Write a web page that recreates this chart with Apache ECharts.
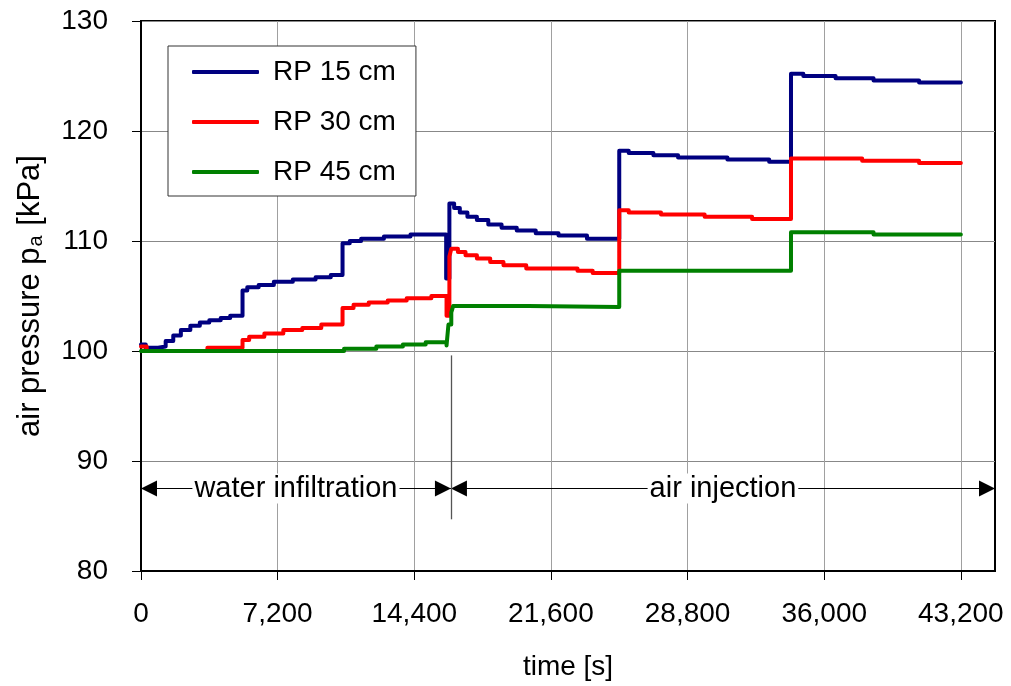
<!DOCTYPE html>
<html>
<head>
<meta charset="utf-8">
<script src="https://cdn.jsdelivr.net/npm/echarts@6/dist/echarts.min.js"></script>
<style>
  html, body { margin: 0; padding: 0; background: #ffffff; }
  #chart { width: 1011px; height: 686px; }
</style>
</head>
<body>
<div id="chart"></div>
<script>
// Air pressure at three reference points (RP) during water infiltration and air injection.
// Each pair is [time in s, pressure in kPa]; the level holds until the next pair.
const seriesNames = ['RP 15 cm', 'RP 30 cm', 'RP 45 cm'];

const rp15 = [
  [0, 100.6], [250, 100.3], [900, 100.4], [1300, 100.9], [1700, 101.4], [2100, 101.9],
  [2600, 102.3], [3100, 102.6], [3600, 102.8], [4200, 103.0], [4700, 103.2],
  [5350, 105.5], [5600, 105.8], [6200, 106.0], [7000, 106.3], [8000, 106.5],
  [9200, 106.7], [10000, 106.9], [10620, 109.8], [11000, 110.0], [11600, 110.2],
  [12800, 110.4], [14200, 110.6], [16080, 106.6], [16250, 113.4], [16500, 113.0],
  [16800, 112.6], [17200, 112.2], [17700, 111.9], [18300, 111.5], [19000, 111.2],
  [19800, 110.95], [20800, 110.7], [22000, 110.5], [23500, 110.2], [25200, 118.2],
  [25700, 118.0], [27000, 117.8], [28300, 117.6], [30900, 117.4], [33100, 117.2],
  [34250, 125.2], [34900, 125.0], [36600, 124.8], [38600, 124.6], [41000, 124.4],
  [43200, 124.4]
];

const rp30 = [
  [0, 100.4], [300, 100.0], [3500, 100.3], [5350, 101.0], [5700, 101.3], [6500, 101.6],
  [7500, 101.9], [8500, 102.1], [9500, 102.4], [10620, 103.9], [11200, 104.2],
  [12000, 104.4], [13000, 104.6], [14000, 104.8], [15300, 105.0], [16100, 103.2],
  [16250, 108.6], [16350, 109.3], [16700, 109.0], [17100, 108.7], [17700, 108.4],
  [18400, 108.1], [19100, 107.8], [20300, 107.5], [23000, 107.3], [23800, 107.1],
  [25200, 112.8], [25700, 112.6], [27400, 112.4], [29700, 112.2], [32200, 112.0],
  [34250, 117.5], [38000, 117.3], [41000, 117.1], [43200, 117.1]
];

const rp45 = [
  [0, 100.0], [10700, 100.2], [12400, 100.4], [13800, 100.6], [15000, 100.8],
  [16100, 100.5], [16200, 102.4], [16350, 103.5], [16450, 104.1], [20400, 104.0],
  [25200, 107.3], [34250, 110.8], [38600, 110.6], [43200, 110.6]
];

// Axis ticks
const xTickValues = [0, 7200, 14400, 21600, 28800, 36000, 43200];
const yTickValues = [80, 90, 100, 110, 120, 130];

// Test phases shown below the curves
const phaseLabels = ['water infiltration', 'air injection'];
const phaseBounds = [0, 16330, 45000];
const phaseArrowLevel = 87.5;
const separatorRange = [99.6, 84.7];

const FONT = '"Liberation Sans", Arial, Helvetica, sans-serif';
const colors = ['#000080', '#ff0000', '#008000'];

function withCommas(v) {
  return String(v).replace(/\B(?=(\d{3})+(?!\d))/g, ',');
}

function lineSeries(name, data, color, extra) {
  return Object.assign({
    name: name,
    type: 'line',
    data: data,
    step: 'end',
    symbol: 'none',
    animation: false,
    lineStyle: { color: color, width: 4, cap: 'round', join: 'round' },
    itemStyle: { color: color }
  }, extra || {});
}

const arrowLabel = {
  show: true,
  position: 'middle',
  distance: [0, -15],
  color: '#000',
  fontFamily: FONT,
  fontSize: 29,
  lineHeight: 30,
  backgroundColor: '#ffffff',
  padding: [0, 2]
};

const phaseMarks = {
  silent: true,
  animation: false,
  symbol: ['triangle', 'triangle'],
  symbolSize: 16,
  symbolOffset: [[0, 8], [0, 8]],
  lineStyle: { color: '#000', width: 1, type: 'solid' },
  data: [
    [
      { coord: [phaseBounds[0], phaseArrowLevel], label: Object.assign({}, arrowLabel, { formatter: phaseLabels[0] }) },
      { coord: [phaseBounds[1], phaseArrowLevel] }
    ],
    [
      { coord: [phaseBounds[1], phaseArrowLevel], label: Object.assign({}, arrowLabel, { formatter: phaseLabels[1] }) },
      { coord: [phaseBounds[2], phaseArrowLevel] }
    ],
    [
      { coord: [phaseBounds[1], separatorRange[0]], symbol: 'none', label: { show: false }, lineStyle: { color: '#555', width: 1.3 } },
      { coord: [phaseBounds[1], separatorRange[1]], symbol: 'none' }
    ]
  ]
};

const chart = echarts.init(document.getElementById('chart'), null, { renderer: 'canvas' });

chart.setOption({
  backgroundColor: '#ffffff',
  animation: false,
  textStyle: { fontFamily: FONT, color: '#000' },
  grid: {
    left: 141, top: 21, right: 16, bottom: 112,
    show: true, borderColor: '#000', borderWidth: 2, backgroundColor: 'transparent'
  },
  legend: {
    orient: 'vertical',
    left: 168,
    top: 46,
    data: seriesNames,
    icon: 'roundRect',
    backgroundColor: '#ffffff',
    borderColor: '#333',
    borderWidth: 1,
    borderRadius: 0,
    padding: [11, 20, 9, 24],
    itemWidth: 67,
    itemHeight: 4,
    itemGap: 20,
    textStyle: { fontFamily: FONT, fontSize: 28, lineHeight: 30, color: '#000', padding: [0, 0, 0, 9] }
  },
  xAxis: {
    type: 'value',
    min: 0,
    max: 45000,
    interval: 7200,
    name: 'time [s]',
    nameLocation: 'middle',
    nameGap: 82,
    nameTextStyle: { fontFamily: FONT, fontSize: 28, color: '#000' },
    axisLine: { show: true, onZero: false, lineStyle: { color: '#000', width: 2 } },
    axisTick: { show: true, length: 9, lineStyle: { color: '#000', width: 1 }, customValues: xTickValues },
    axisLabel: {
      fontFamily: FONT, fontSize: 28, color: '#000', margin: 29,
      customValues: xTickValues,
      formatter: withCommas
    },
    splitLine: { show: true, lineStyle: { color: '#a0a0a0', width: 1 } }
  },
  yAxis: {
    type: 'value',
    min: 80,
    max: 130,
    interval: 10,
    name: 'air pressure p{sub|a} [kPa]',
    nameLocation: 'middle',
    nameGap: 95,
    nameRotate: 90,
    nameTextStyle: {
      fontFamily: FONT, fontSize: 31, color: '#000',
      rich: { sub: { fontFamily: FONT, fontSize: 20, color: '#000', verticalAlign: 'bottom', padding: [0, 1, 0, 1] } }
    },
    axisLine: { show: true, lineStyle: { color: '#000', width: 2 } },
    axisTick: { show: true, length: 9, lineStyle: { color: '#000', width: 1 }, customValues: yTickValues },
    axisLabel: { fontFamily: FONT, fontSize: 28, color: '#000', margin: 33, customValues: yTickValues },
    splitLine: { show: true, lineStyle: { color: '#888888', width: 1 } }
  },
  series: [
    lineSeries(seriesNames[0], rp15, colors[0]),
    lineSeries(seriesNames[1], rp30, colors[1]),
    lineSeries(seriesNames[2], rp45, colors[2], { markLine: phaseMarks })
  ]
});
</script>
</body>
</html>
